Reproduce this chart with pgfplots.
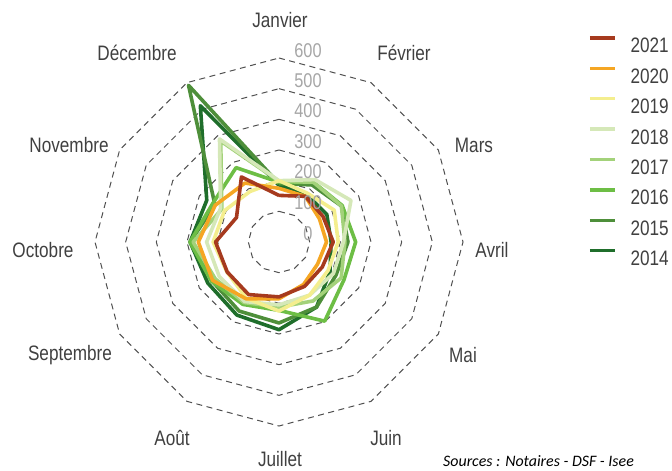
\documentclass[border=0pt]{standalone}
\usepackage{fontspec}
\setmainfont{Liberation Sans}[FakeStretch=0.82]
\newfontfamily\srcfont{Carlito}
\usepackage{pgfplots}
\pgfplotsset{compat=1.18}
\usepgfplotslibrary{polar}
\definecolor{c21}{HTML}{A63A1E}
\definecolor{c20}{HTML}{F5A623}
\definecolor{c19}{HTML}{F4EE8E}
\definecolor{c18}{HTML}{D5E8B8}
\definecolor{c17}{HTML}{A3D27A}
\definecolor{c16}{HTML}{6DBE45}
\definecolor{c15}{HTML}{4E8F3A}
\definecolor{c14}{HTML}{1F6E2B}
\definecolor{txt}{HTML}{404040}
\definecolor{tck}{HTML}{A6A6A6}
\definecolor{grd}{HTML}{505050}
\begin{document}
\begin{tikzpicture}
\begin{polaraxis}[
  width=368bp, height=368bp, scale only axis,
  xmin=0, xmax=360, ymin=0, ymax=600,
  hide axis, clip=false,
  reverse legend,
  legend style={draw=none, fill=none, at={(axis cs:33.69,1211)}, anchor=north west,
    inner sep=0pt, row sep=13.7bp, column sep=14bp,
    nodes={inner sep=0pt, text height=15bp, text depth=0bp, font=\fontsize{21}{23}\selectfont, text=txt}},
  legend cell align=left,
  legend image code/.code={\draw[#1, line width=3.4bp] (0bp,7.5bp) -- (25bp,7.5bp);},
  grid/.style={dash pattern=on 6bp off 4.5bp, grd, line width=1bp, forget plot},
  ser/.style={line width=3.6bp, line join=round},
]
\coordinate (c) at (axis cs:0,0);
% grid dodecagons
\addplot[grid] coordinates {(90,100) (60,100) (30,100) (0,100) (-30,100) (-60,100) (-90,100) (-120,100) (-150,100) (-180,100) (-210,100) (-240,100) (-270,100)};
\addplot[grid] coordinates {(90,200) (60,200) (30,200) (0,200) (-30,200) (-60,200) (-90,200) (-120,200) (-150,200) (-180,200) (-210,200) (-240,200) (-270,200)};
\addplot[grid] coordinates {(90,300) (60,300) (30,300) (0,300) (-30,300) (-60,300) (-90,300) (-120,300) (-150,300) (-180,300) (-210,300) (-240,300) (-270,300)};
\addplot[grid] coordinates {(90,400) (60,400) (30,400) (0,400) (-30,400) (-60,400) (-90,400) (-120,400) (-150,400) (-180,400) (-210,400) (-240,400) (-270,400)};
\addplot[grid] coordinates {(90,500) (60,500) (30,500) (0,500) (-30,500) (-60,500) (-90,500) (-120,500) (-150,500) (-180,500) (-210,500) (-240,500) (-270,500)};
\addplot[grid] coordinates {(90,600) (60,600) (30,600) (0,600) (-30,600) (-60,600) (-90,600) (-120,600) (-150,600) (-180,600) (-210,600) (-240,600) (-270,600)};
% series (Jan..Dec, clockwise from top)
\addplot[ser, c14] coordinates {(90,185) (60,180) (30,180) (0,170) (-30,192) (-60,245) (-90,286) (-120,275) (-150,268) (-180,290) (-210,272) (-240,513) (-270,185)};
\addlegendentry{2014}
\addplot[ser, c15] coordinates {(90,190) (60,215) (30,235) (0,225) (-30,215) (-60,245) (-90,264) (-120,260) (-150,253) (-180,290) (-210,241) (-240,590) (-270,190)};
\addlegendentry{2015}
\addplot[ser, c16] coordinates {(90,195) (60,225) (30,238) (0,250) (-30,245) (-60,298) (-90,223) (-120,235) (-150,255) (-180,290) (-210,250) (-240,280) (-270,195)};
\addlegendentry{2016}
\addplot[ser, c17] coordinates {(90,198) (60,225) (30,235) (0,215) (-30,234) (-60,222) (-90,212) (-120,228) (-150,240) (-180,280) (-210,215) (-240,380) (-270,198)};
\addlegendentry{2017}
\addplot[ser, c18] coordinates {(90,200) (60,235) (30,271) (0,210) (-30,205) (-60,200) (-90,205) (-120,224) (-150,225) (-180,236) (-210,220) (-240,388) (-270,200)};
\addlegendentry{2018}
\addplot[ser, c19] coordinates {(90,200) (60,184) (30,208) (0,193) (-30,185) (-60,200) (-90,225) (-120,212) (-150,196) (-180,215) (-210,205) (-240,190) (-270,200)};
\addlegendentry{2019}
\addplot[ser, c20] coordinates {(90,175) (60,172) (30,152) (0,155) (-30,145) (-60,160) (-90,185) (-120,214) (-150,250) (-180,263) (-210,240) (-240,222) (-270,175)};
\addlegendentry{2020}
\addplot[ser, c21] coordinates {(90,152) (60,172) (30,166) (0,177) (-30,163) (-60,167) (-90,179) (-120,198) (-150,195) (-180,207) (-210,160) (-240,245) (-270,152)};
\addlegendentry{2021}
\end{polaraxis}
% radial value labels
\begin{scope}[every node/.style={font=\fontsize{20}{22}\selectfont, text=tck, inner sep=0pt}]
\node at ([shift={(29bp,8bp)}]c) {0};
\node at ([shift={(29bp,39bp)}]c) {100};
\node at ([shift={(29bp,70bp)}]c) {200};
\node at ([shift={(29bp,100bp)}]c) {300};
\node at ([shift={(29bp,131bp)}]c) {400};
\node at ([shift={(29bp,161bp)}]c) {500};
\node at ([shift={(29bp,191bp)}]c) {600};
\end{scope}
% month labels
\begin{scope}[every node/.style={font=\fontsize{21}{23}\selectfont, text=txt, inner sep=0pt}]
\node at ([shift={(1bp,222bp)}]c) {Janvier};
\node at ([shift={(125bp,189bp)}]c) {Février};
\node at ([shift={(195bp,97bp)}]c) {Mars};
\node at ([shift={(213bp,-8bp)}]c) {Avril};
\node at ([shift={(184bp,-113bp)}]c) {Mai};
\node at ([shift={(107bp,-196bp)}]c) {Juin};
\node at ([shift={(1bp,-217bp)}]c) {Juillet};
\node at ([shift={(-107bp,-196bp)}]c) {Août};
\node at ([shift={(-209bp,-113bp)}]c) {Septembre};
\node at ([shift={(-236bp,-8bp)}]c) {Octobre};
\node at ([shift={(-210bp,97bp)}]c) {Novembre};
\node at ([shift={(-142bp,189bp)}]c) {Décembre};
\end{scope}
\node[anchor=west, inner sep=0pt, font=\srcfont\itshape\fontsize{16}{18}\selectfont, text=black] at ([shift={(164bp,-219bp)}]c) {Sources : Notaires - DSF - Isee};
\pgfresetboundingbox
\path ([shift={(-279bp,-229bp)}]c) rectangle ([shift={(393bp,242bp)}]c);
\end{tikzpicture}
\end{document}
